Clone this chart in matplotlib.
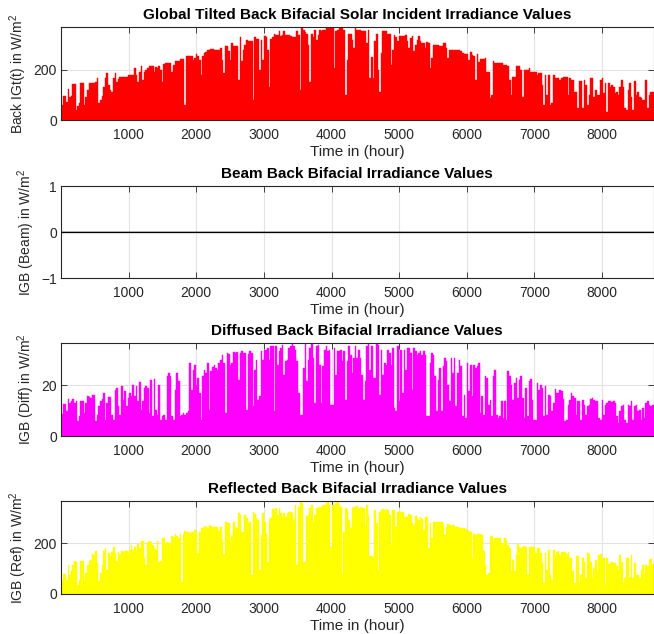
import matplotlib
matplotlib.use("Agg")
import matplotlib.pyplot as plt
import numpy as np

plt.rcParams['font.family'] = ['Liberation Sans', 'DejaVu Sans']
plt.rcParams['mathtext.fontset'] = 'custom'
plt.rcParams['mathtext.rm'] = 'Liberation Sans'
plt.rcParams['mathtext.it'] = 'Liberation Sans:italic'

# daily peak of the hourly back irradiance (W/m^2), one value per day of the year
global_back = [
    60, 95, 95, 70, 125, 90, 95, 143, 143, 40,
    55, 67, 147, 147, 60, 93, 120, 147, 147, 147,
    147, 150, 167, 67, 80, 96, 130, 167, 187, 140,
    120, 113, 167, 187, 153, 165, 173, 173, 173, 173,
    173, 180, 180, 180, 180, 207, 180, 150, 190, 213,
    160, 193, 200, 205, 216, 216, 216, 193, 210, 205,
    216, 200, 153, 224, 227, 227, 227, 227, 193, 220,
    236, 236, 236, 243, 243, 243, 60, 253, 253, 253,
    253, 240, 247, 263, 253, 240, 180, 255, 267, 270,
    277, 280,
    284, 284, 280, 280, 280, 280, 287, 240, 187, 296,
    296, 276, 240, 307, 293, 293, 293, 160, 330, 233,
    280, 300, 320, 313, 313, 313, 80, 330, 323, 323,
    200, 320, 240, 333, 330, 280, 133, 324, 330, 344,
    340, 340, 353, 333, 340, 353, 340, 340, 340, 333,
    330, 330, 330, 356, 340, 120, 369, 360, 350, 343,
    300, 153, 343, 330, 360, 320, 340, 360, 355, 357,
    360, 367, 365, 370, 370, 370, 207, 355, 360, 365,
    369, 365, 360, 100, 240, 343, 343, 320, 287,
    367, 360, 360, 360, 353, 353, 353, 307, 360, 167,
    250, 167, 313, 343, 200, 113, 267, 356, 356, 356,
    343, 343, 220, 280, 340, 330, 313, 333, 333, 333,
    333, 340, 313, 287, 327, 333, 273, 300, 320, 333,
    313, 307, 307, 287, 311, 307, 207, 247, 300, 300,
    300, 300, 293, 293, 307, 307, 287, 247, 280, 280,
    280, 277, 277, 277, 277, 273, 267, 263, 263, 263,
    240, 271, 260, 255, 160, 263, 231, 243, 243, 243,
    247, 193, 193, 87, 100, 233, 227, 227, 227, 227,
    227, 220,
    220, 220, 213, 160, 100, 173, 173, 213, 213, 213,
    200, 93, 200, 200, 200, 207, 193, 193, 193, 193,
    180, 187, 187, 140, 60, 180, 100, 180, 60, 67,
    180, 167, 167, 167, 160, 167, 171, 171, 171, 100,
    169, 160, 160, 113, 113, 47, 156, 156, 47, 160,
    140, 60, 100, 169, 167, 93, 120, 100, 100, 160,
    167, 107, 147, 33, 147, 133, 140, 133, 107, 113,
    100, 133, 160, 133, 47, 40, 120, 147, 93, 40,
    157, 100, 113, 93, 87, 80, 80, 160, 47, 100,
    113, 113,
]

beam_back = [0] * 365

diffuse_back = [
    8.8, 12.7, 12.7, 9.7, 14.5, 13, 13.6, 14.5, 13, 13.9,
    5.8, 7.7, 13.9, 13.6, 9, 13, 15.6, 15.3, 14.9, 16,
    16.2, 5.8, 8.4, 11.6, 13.6, 14.5, 16.9, 6.4, 13, 15.3,
    15.3, 8.4, 6.4, 18.2, 18.8, 11.6, 8.4, 19.5, 14.3, 17.5,
    11.6, 14.9, 16.9, 15.6, 20.1, 15.6, 19.5, 13.6, 21, 10.3,
    13.6, 18.8, 19.5, 18.8, 9, 22.1, 7.7, 22.4, 10.3, 8.4,
    20.1, 6.4, 7.7, 8.4, 6.4, 23.4, 24.7, 23.4, 7.7, 6.4,
    18.2, 24.7, 21.5, 7.7, 8.4, 9, 8.4, 9, 9.7, 28.6,
    18.2, 26, 28, 20.1, 22.8, 16.9, 6.4, 23.4, 26,
    24.7, 28.6, 10.3, 25.4, 27, 28, 26.7, 26, 28.6, 30,
    31.9, 28.6, 9, 32.6, 32, 28, 28.6, 32.8, 32.6, 32.8,
    22.1, 32.6, 33.2, 32.6, 32.6, 10.3, 32, 33.2, 32.6, 11.6,
    26, 30, 14.3, 15.6, 33.2, 30, 33.9, 33.9, 34.5, 30,
    35.2, 35.2, 9.7, 35.2, 28, 33.2, 34.5, 35.8, 24, 29.3,
    30, 34.5, 35.2, 36.5, 35.2, 33.9, 29.3, 16.9, 8.4, 8.4,
    26.7, 36.5, 21.5, 30, 34.5, 36.5, 30.6, 13, 35.2, 35.8,
    28, 13, 27.3, 33.9, 35.2, 33.2, 33.9, 12.3, 12.3, 34.5,
    24, 33.2, 33.2, 33.9, 29.3, 33.2, 14.3, 29.3, 35.2, 31.9,
    24.7, 30.6,
    35.2, 30.6, 33.9, 30.6, 24, 14.3, 21.5, 35.2, 36.5, 26,
    35.2, 22.8, 22.8, 36.5, 35.8, 16.2, 33.9, 24, 28.6, 28,
    33.9, 32.6, 28, 34.5, 11, 9.7, 35.2, 13.6, 33.9, 16.9,
    33.9, 26, 34.5, 34.5, 32.6, 18.2, 34.5, 33.2, 31.9, 32.6,
    33.2, 31.9, 33.2, 31.9, 7.7, 7.7, 28.6, 32.6, 31.9, 23.4,
    9.7, 22.1, 26.7, 9.7, 27.3, 30.6, 29.3, 20.1, 13.6, 30.6,
    24.7, 30.6, 11.6, 24.7, 30, 27.3, 7.7, 16.2, 7, 28.6,
    17.5, 28, 15.6, 28, 26.7, 27.3, 28.6, 9, 15.6, 8.4,
    23.4, 22.8, 12.3, 14.3, 7.7, 23.4, 26, 8.4, 7, 7.7,
    13.6, 7,
    13.6, 6.4, 25.4, 23.4, 20.1, 14.3, 20.8, 22.8, 14.9, 22.1,
    23.7, 14.9, 7, 18.8, 7.7, 21.5, 22.4, 14.3, 6.4, 6.4,
    20.8, 18.2, 20.1, 18.8, 7.7, 19.5, 8.4, 16.2, 15.6, 9.7,
    13, 18.4, 16.9, 16.9, 18.2, 17.5, 14.5, 5.8, 6.4, 12.3,
    14.3, 16.9, 15.6, 14.9, 8.4, 13.6, 13.6, 6.4, 14.3, 12.3,
    8.4, 11.6, 12.3, 14.5, 14.9, 14.3, 13.6, 13.6, 7, 6.4,
    14.3, 8.4, 12.3, 13, 13.6, 13.6, 13.2, 13.6, 13, 7.7,
    5.2, 9.7, 11.6, 12.3, 6.4, 5.2, 12.3, 11.6, 13.9, 6.4,
    11.6, 12.3, 9.7, 10.3, 6.4, 10.9, 7, 13, 13.6, 12.3,
    11.6, 12.3,
]

reflected_back = [
    52, 79, 79, 56, 113, 76, 89, 115, 131, 128,
    34, 56, 132, 132, 50, 83, 113, 131, 135, 157,
    155, 168, 122, 52, 83, 115, 170, 181, 96, 161,
    148, 165, 184, 161, 132, 165, 157, 168, 165, 168,
    170, 161, 174, 194, 174, 184, 168, 197, 181, 210,
    210, 142, 115, 207, 210, 205, 194, 181, 174, 210,
    128, 131, 220, 220, 200, 204, 203, 194, 227, 223,
    236, 227, 220, 236, 47, 233, 249, 246, 244, 240,
    244, 246, 253, 240, 161, 244, 260, 262, 270,
    266, 262, 273, 270, 266, 266, 266, 266, 249, 264,
    214, 157, 286, 279, 279, 207, 227, 283, 266, 260,
    319, 312, 246, 246, 312, 299, 279, 286, 76, 323,
    316, 299, 292, 96, 233, 319, 286, 236, 128, 296,
    299, 336, 332, 338, 312, 338, 319, 302, 319, 305,
    319, 323, 323, 319, 292, 351, 115, 345, 367, 358,
    128, 122, 309, 312, 338, 351, 286, 312, 341, 341,
    345, 345, 351, 351, 358, 364, 351, 187, 351, 351,
    358, 367, 351, 345, 83, 246, 341, 332, 292, 260,
    341, 345,
    345, 349, 341, 345, 338, 341, 273, 351, 312, 148,
    148, 142, 332, 279, 96, 325, 332, 336, 332, 336,
    332, 312, 194, 332, 332, 266, 325, 328, 325, 323,
    305, 305, 305, 315, 312, 279, 273, 309, 299, 292,
    302, 296, 253, 305, 302, 181, 279, 220, 283, 286,
    286, 283, 283, 283, 273, 233, 266, 275, 273, 266,
    273, 270, 266, 264, 260, 260, 260, 260, 257, 249,
    249, 246, 142, 236, 233, 236, 236, 236, 233, 168,
    115, 76, 83, 227, 227, 210, 220, 220, 220, 220,
    201, 194,
    220, 213, 194, 181, 89, 135, 89, 155, 197, 187,
    181, 187, 191, 187, 76, 184, 187, 187, 187, 161,
    181, 181, 161, 122, 43, 161, 96, 172, 76, 56,
    174, 155, 165, 170, 155, 165, 165, 165, 157, 165,
    144, 144, 89, 43, 151, 151, 43, 76, 142, 128,
    63, 161, 157, 128, 69, 102, 135, 89, 155, 157,
    135, 144, 37, 142, 119, 122, 128, 122, 122, 109,
    96, 152, 128, 43, 63, 144, 142, 69, 152, 63,
    122, 76, 76, 63, 96, 115, 79, 115, 109, 135,
    140, 120,
]

titles = [
    'Global Tilted Back Bifacial Solar Incident Irradiance Values',
    'Beam Back Bifacial Irradiance Values',
    'Diffused Back Bifacial Irradiance Values',
    'Reflected Back Bifacial Irradiance Values',
]
ylabels = [
    'Back IGt(t) in W/m$^2$',
    'IGB (Beam) in W/m$^2$',
    'IGB (Diff) in W/m$^2$',
    'IGB (Ref) in W/m$^2$',
]
colors = ['#ff0000', '#000000', '#ff00ff', '#ffff00']
yticks = [[0, 200], [-1, 0, 1], [0, 20], [0, 200]]
xticks = [1000, 2000, 3000, 4000, 5000, 6000, 7000, 8000]
hours_in_year = 8760

series = [global_back, beam_back, diffuse_back, reflected_back]
day_hour = np.arange(365) * 24 + 12

fig = plt.figure(figsize=(6.54, 6.34), dpi=100)
# axes boxes in figure fractions [left, bottom, width, height]
boxes = [
    [0.0933, 0.8107, 0.906, 0.1467],
    [0.0933, 0.5615, 0.906, 0.1451],
    [0.0933, 0.3123, 0.906, 0.1467],
    [0.0933, 0.0631, 0.906, 0.1467],
]
axc = '#262626'

for i in range(4):
    ax = fig.add_axes(boxes[i])
    vals = np.array(series[i], dtype=float)
    ax.bar(day_hour, vals, width=24, color=colors[i], edgecolor=colors[i],
           linewidth=0.3, zorder=2)
    if vals.max() > 0:
        ax.set_ylim(0, vals.max())
    else:
        ax.set_ylim(-1, 1)
        ax.axhline(0, color='k', linewidth=0.9, zorder=3)
    ax.set_xlim(0, hours_in_year)
    ax.set_xticks(xticks)
    ax.set_yticks(yticks[i])
    ax.grid(True, color='#e3e3e3', linewidth=0.8)
    ax.set_axisbelow(True)
    ax.tick_params(direction='in', top=True, right=True, length=4.5,
                   width=0.6, colors=axc, labelsize=10)
    ax.tick_params(axis='x', pad=6)
    ax.tick_params(axis='y', pad=3)
    for s in ax.spines.values():
        s.set_color(axc)
        s.set_linewidth(0.8)
    ax.set_title(titles[i], fontsize=11, fontweight='bold', pad=6)
    ax.set_xlabel('Time in (hour)', fontsize=11, labelpad=2, color=axc)
    ax.set_ylabel(ylabels[i], fontsize=10, labelpad=3, color=axc)

fig.savefig('out.png', dpi=100)
